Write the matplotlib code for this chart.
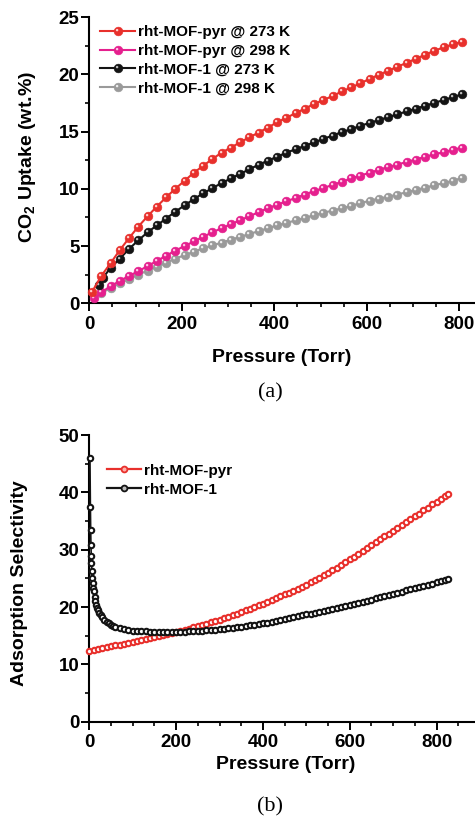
import numpy as np
import matplotlib
matplotlib.use('Agg')
import matplotlib.pyplot as plt
from matplotlib.path import Path
from matplotlib.ticker import MultipleLocator
from matplotlib.lines import Line2D

plt.rcParams['font.family'] = ['Liberation Sans', 'DejaVu Sans']
plt.rcParams['font.weight'] = 'bold'
plt.rcParams['mathtext.fontset'] = 'custom'
plt.rcParams['mathtext.rm'] = 'Liberation Sans:bold'
plt.rcParams['mathtext.bf'] = 'Liberation Sans:bold'

# ---------------- Panel (a) data ----------------
P_A = [6, 26, 46, 66, 86, 106, 126, 146, 166, 186, 206, 226, 246, 266, 286, 306,
       326, 346, 366, 386, 406, 426, 446, 466, 486, 506, 526, 546, 566, 586, 606,
       626, 646, 666, 686, 706, 726, 746, 766, 786, 806]
P_PYR273 = P_A
PYR_273 = [1.0, 2.4, 3.5, 4.65, 5.7, 6.7, 7.6, 8.45, 9.25, 10.0, 10.7, 11.4, 12.0,
           12.6, 13.15, 13.6, 14.05, 14.5, 14.9, 15.35, 15.8, 16.2, 16.6, 17.0,
           17.4, 17.75, 18.1, 18.5, 18.85, 19.2, 19.6, 19.95, 20.3, 20.65, 21.0,
           21.35, 21.7, 22.05, 22.35, 22.6, 22.85]
P_PYR298 = [10] + P_A[1:]
PYR_298 = [0.42, 0.95, 1.5, 1.95, 2.4, 2.8, 3.25, 3.7, 4.15, 4.6, 5.0, 5.4, 5.8,
           6.2, 6.55, 6.9, 7.25, 7.6, 7.95, 8.3, 8.6, 8.9, 9.2, 9.5, 9.8, 10.05,
           10.35, 10.6, 10.9, 11.15, 11.4, 11.65, 11.9, 12.1, 12.35, 12.55, 12.8,
           13.0, 13.2, 13.4, 13.6]
P_MOF273 = [20, 30] + P_A[2:]
MOF_273 = [1.6, 2.25, 3.1, 3.9, 4.75, 5.5, 6.2, 6.8, 7.4, 8.0, 8.55, 9.1, 9.6,
           10.05, 10.5, 10.9, 11.3, 11.7, 12.1, 12.45, 12.8, 13.15, 13.45, 13.75,
           14.05, 14.35, 14.65, 14.95, 15.2, 15.5, 15.75, 16.0, 16.25, 16.5, 16.75,
           17.0, 17.25, 17.5, 17.75, 18.0, 18.25]
P_MOF298 = P_A[1:]
MOF_298 = [0.87, 1.35, 1.75, 2.15, 2.5, 2.85, 3.2, 3.55, 3.9, 4.2, 4.5, 4.8, 5.05,
           5.3, 5.55, 5.8, 6.05, 6.3, 6.55, 6.8, 7.0, 7.25, 7.45, 7.7, 7.9, 8.1,
           8.3, 8.5, 8.75, 8.95, 9.15, 9.3, 9.5, 9.7, 9.9, 10.1, 10.3, 10.5, 10.7,
           10.95]
LABELS_A = ['rht-MOF-pyr @ 273 K', 'rht-MOF-pyr @ 298 K',
            'rht-MOF-1 @ 273 K', 'rht-MOF-1 @ 298 K']

# ---------------- Panel (b) data ----------------
P_B = [0, 10, 20, 30, 40, 50, 60, 70, 80, 90,
       100, 110, 120, 130, 140, 150, 160, 170, 180, 190,
       200, 210, 220, 230, 240, 250, 260, 270, 280, 290,
       300, 310, 320, 330, 340, 350, 360, 370, 380, 390,
       400, 410, 420, 430, 440, 450, 460, 470, 480, 490,
       500, 510, 520, 530, 540, 550, 560, 570, 580, 590,
       600, 610, 620, 630, 640, 650, 660, 670, 680, 690,
       700, 710, 720, 730, 740, 750, 760, 770, 780, 790,
       800, 810, 820, 826]
SEL_PYR = [12.4, 12.55, 12.7, 12.85, 13.0, 13.15, 13.3, 13.45, 13.6, 13.75,
           13.9, 14.05, 14.2, 14.4, 14.55, 14.75, 14.9, 15.1, 15.25, 15.45,
           15.6, 15.8, 16.0, 16.2, 16.45, 16.65, 16.9, 17.1, 17.35, 17.55,
           17.8, 18.05, 18.3, 18.55, 18.85, 19.15, 19.4, 19.7, 20.0, 20.3,
           20.6, 20.9, 21.2, 21.5, 21.85, 22.2, 22.5, 22.85, 23.2, 23.55,
           23.9, 24.3, 24.7, 25.1, 25.5, 25.95, 26.4, 26.85, 27.3, 27.8,
           28.3, 28.8, 29.3, 29.8, 30.3, 30.8, 31.3, 31.8, 32.3, 32.8,
           33.3, 33.8, 34.3, 34.8, 35.3, 35.8, 36.3, 36.85, 37.35, 37.9,
           38.4, 38.9, 39.4, 39.7]
P_B_LOW = [1.5, 2.5, 3.2, 3.8, 4.5, 5, 6, 7, 8, 9, 10, 12, 14, 16, 18, 20, 23, 26,
           30, 35, 40, 45, 50, 55, 60, 70, 80, 90]
P_B_MOF1 = P_B_LOW + P_B[10:]
SEL_MOF1 = [46.0, 37.5, 33.4, 30.8, 28.9, 27.6, 26.2, 25.1, 24.2, 23.4, 22.8, 21.8,
            21.0, 20.4, 19.9, 19.5, 19.0, 18.6, 18.2, 17.8, 17.45, 17.2, 16.95,
            16.75, 16.6, 16.35, 16.15, 16.0,
            15.9, 15.85, 15.8, 15.75, 15.72, 15.7, 15.68, 15.66, 15.65, 15.65,
            15.67, 15.7, 15.72, 15.75, 15.8, 15.85, 15.9, 15.95, 16.0, 16.05,
            16.1, 16.2, 16.3, 16.4, 16.5, 16.6, 16.7, 16.8, 16.95, 17.05,
            17.2, 17.3, 17.45, 17.6, 17.75, 17.9, 18.05, 18.2, 18.4, 18.55,
            18.7, 18.85, 19.0, 19.15, 19.3, 19.45, 19.65, 19.8, 20.0, 20.15,
            20.35, 20.55, 20.7, 20.9, 21.1, 21.3, 21.5, 21.7, 21.9, 22.1,
            22.3, 22.5, 22.7, 22.9, 23.1, 23.3, 23.5, 23.7, 23.9, 24.1,
            24.3, 24.5, 24.7, 24.85]
LABELS_B = ['rht-MOF-pyr', 'rht-MOF-1']

RED = '#e8302c'
MAG = '#e5208e'
BLK = '#141414'
GRY = '#9a9a9a'

# highlight marker (offset small circle, normalised with a sentinel vertex)
_c = Path.circle((-0.16, 0.16), 0.14)
HL = Path(np.vstack([[[0.5, 0.5]], _c.vertices]),
          np.concatenate([[Path.MOVETO], _c.codes]))

W, H = 475, 818
fig = plt.figure(figsize=(W / 100, H / 100), dpi=100)

x0 = 89.3
ax1 = fig.add_axes([x0 / W, 1 - 303.3 / H, (W - x0) / W, (303.3 - 17.0) / H])
ax2 = fig.add_axes([x0 / W, 1 - 721.7 / H, (W - x0) / W, (721.7 - 435.0) / H])

for ax in (ax1, ax2):
    ax.spines['top'].set_visible(False)
    ax.spines['right'].set_visible(False)
    ax.spines['left'].set_linewidth(1.5)
    ax.spines['bottom'].set_linewidth(1.5)
    ax.tick_params(which='major', direction='out', length=5.5, width=1.4,
                   labelsize=13.5, pad=1.5)
    ax.tick_params(which='minor', direction='out', length=3.2, width=1.2)
    ax.tick_params(axis='x', which='major', pad=3.5)
    ax.xaxis.set_major_locator(MultipleLocator(200))
    ax.xaxis.set_minor_locator(MultipleLocator(50))

# ---- panel (a)
def glossy(ax, x, y, color, hl, z):
    ln, = ax.plot(x, y, '-', color=color, lw=1.5, marker='o', ms=6.3,
                  mfc=color, mec=color, mew=0.4, zorder=z, clip_on=False)
    h, = ax.plot(x, y, ls='none', marker=HL, ms=6.3, mfc=hl, mec='none',
                 zorder=z + 0.1, clip_on=False)
    return (ln, h)

h1 = glossy(ax1, P_PYR273, PYR_273, RED, '#ffd0cc', 5)
h2 = glossy(ax1, P_PYR298, PYR_298, MAG, '#ffc8e6', 3)
h3 = glossy(ax1, P_MOF273, MOF_273, BLK, '#bdbdbd', 4)
h4 = glossy(ax1, P_MOF298, MOF_298, GRY, '#eeeeee', 2)

ax1.set_xlim(0, (W - x0) / 0.4625)
ax1.set_ylim(0, 25)
ax1.yaxis.set_major_locator(MultipleLocator(5))
ax1.yaxis.set_minor_locator(MultipleLocator(2.5))
ax1.set_xlabel('Pressure (Torr)', fontsize=14, fontweight='bold')
ax1.xaxis.set_label_coords(0.5, -0.191)
ax1.xaxis.label.set_verticalalignment('center')
ax1.set_ylabel(r'CO$_\mathbf{2}$ Uptake (wt.%)', fontsize=14, fontweight='bold')
ax1.yaxis.set_label_coords(-0.16, 0.51)
ax1.yaxis.label.set_verticalalignment('center')
ax1.legend([h1, h2, h3, h4], LABELS_A, loc='upper left',
           bbox_to_anchor=(0.028, 0.972), frameon=False, fontsize=11,
           handlelength=2.3, handletextpad=0.2, labelspacing=0.32,
           borderpad=0, borderaxespad=0)

# ---- panel (b)
ax2.plot(P_B, SEL_PYR, '-', color=RED, lw=1.2, marker='o', ms=3.9, mfc='white',
         mec=RED, mew=1.5, zorder=3, clip_on=False)
ax2.plot(P_B_MOF1, SEL_MOF1, '-', color=BLK, lw=1.2, marker='o', ms=3.9,
         mfc='white', mec=BLK, mew=1.5, zorder=4, clip_on=False)
ax2.set_xlim(0, (W - x0) / 0.434)
ax2.set_ylim(0, 50)
ax2.yaxis.set_major_locator(MultipleLocator(10))
ax2.yaxis.set_minor_locator(MultipleLocator(5))
ax2.set_xlabel('Pressure (Torr)', fontsize=14, fontweight='bold')
ax2.xaxis.set_label_coords(0.51, -0.151)
ax2.xaxis.label.set_verticalalignment('center')
ax2.set_ylabel('Adsorption Selectivity', fontsize=14, fontweight='bold')
ax2.yaxis.set_label_coords(-0.182, 0.485)
ax2.yaxis.label.set_verticalalignment('center')
hb = [Line2D([], [], color=RED, lw=1.6, marker='o', ms=4.2, mfc='#ffb0aa',
             mec=RED, mew=1.3),
      Line2D([], [], color=BLK, lw=1.6, marker='o', ms=4.2, mfc='#bbbbbb',
             mec=BLK, mew=1.3)]
ax2.legend(hb, LABELS_B, loc='upper left', bbox_to_anchor=(0.046, 0.9),
           frameon=False, fontsize=11, handlelength=2.2, handletextpad=0.2,
           labelspacing=0.32, borderpad=0, borderaxespad=0)

fig.text(270 / W, 1 - 393 / H, '(a)', ha='center', va='center', fontsize=16,
         family='Liberation Serif', fontweight='normal')
fig.text(270 / W, 1 - 807 / H, '(b)', ha='center', va='center', fontsize=16,
         family='Liberation Serif', fontweight='normal')

fig.savefig('out.png', dpi=100)
